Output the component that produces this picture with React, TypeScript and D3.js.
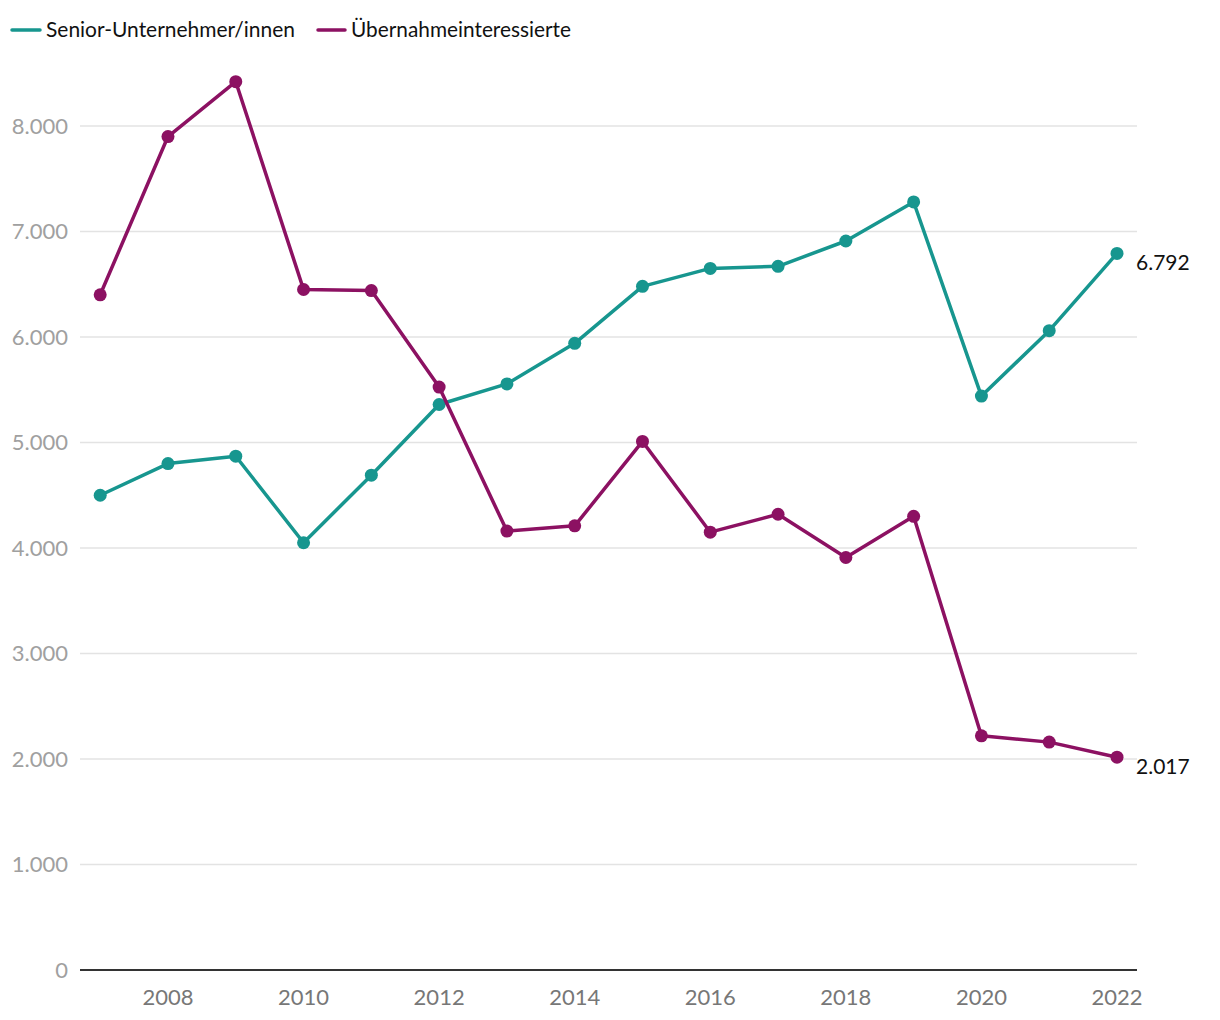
import React from "react";
import * as d3 from "d3";

const years = [2007, 2008, 2009, 2010, 2011, 2012, 2013, 2014, 2015, 2016, 2017, 2018, 2019, 2020, 2021, 2022];
const seniorValues = [4500, 4800, 4870, 4050, 4690, 5360, 5555, 5940, 6480, 6650, 6670, 6910, 7280, 5440, 6060, 6792];
const interestValues = [6400, 7900, 8420, 6450, 6440, 5525, 4160, 4210, 5010, 4150, 4320, 3910, 4300, 2220, 2160, 2017];
const yTicks = [0, 1000, 2000, 3000, 4000, 5000, 6000, 7000, 8000];
const xTicks = [2008, 2010, 2012, 2014, 2016, 2018, 2020, 2022];
const seriesNames = ["Senior-Unternehmer/innen", "Übernahmeinteressierte"];
const colors = ["#17968f", "#8c1162"];

const W = 1220, H = 1020;
const FONT = "Lato, 'Open Sans', sans-serif";

export default function App() {
  const x = d3.scaleLinear().domain([2007, 2022]).range([100.2, 1117]);
  const y = d3.scaleLinear().domain([0, 8000]).range([970, 126]);
  const fmt = (v: number) => (v === 0 ? "0" : d3.format(",")(v).replace(/,/g, "."));
  const line = d3.line<number>().x((_, i) => x(years[i])).y((d) => y(d));
  const series = [seniorValues, interestValues];

  return (
    <svg width={W} height={H} style={{ position: "absolute", left: 0, top: 0, background: "#fff" }} fontFamily={FONT}>
      {/* legend */}
      <g>
        <line x1={12} x2={40} y1={30} y2={30} stroke={colors[0]} strokeWidth={3.5} strokeLinecap="round" />
        <text x={46} y={37} fontSize={21} fill="#111" textLength={249} lengthAdjust="spacingAndGlyphs">{seriesNames[0]}</text>
        <line x1={318} x2={345} y1={30} y2={30} stroke={colors[1]} strokeWidth={3.5} strokeLinecap="round" />
        <text x={351} y={37} fontSize={21} fill="#111" textLength={220} lengthAdjust="spacingAndGlyphs">{seriesNames[1]}</text>
      </g>
      {/* grid */}
      {yTicks.filter((t) => t > 0).map((t) => (
        <line key={t} x1={80} x2={1137} y1={y(t)} y2={y(t)} stroke="#e3e3e3" strokeWidth={1.5} />
      ))}
      {yTicks.map((t) => (
        <text key={"l" + t} x={68} y={y(t) + 7.5} textAnchor="end" fontSize={22} fill="#a0a0a0">{fmt(t)}</text>
      ))}
      <line x1={80} x2={1137} y1={y(0)} y2={y(0)} stroke="#333" strokeWidth={2} />
      {xTicks.map((t) => (
        <text key={"x" + t} x={x(t)} y={1005} textAnchor="middle" fontSize={22} fill="#777">{t}</text>
      ))}
      {series.map((s, si) => (
        <g key={si}>
          <path d={line(s) || ""} fill="none" stroke={colors[si]} strokeWidth={3.5} strokeLinejoin="round" />
          {s.map((v, i) => (
            <circle key={i} cx={x(years[i])} cy={y(v)} r={6.5} fill={colors[si]} />
          ))}
        </g>
      ))}
      <text x={1136} y={y(seniorValues[15]) + 17} fontSize={21} fill="#111">{fmt(seniorValues[15])}</text>
      <text x={1136} y={y(interestValues[15]) + 17} fontSize={21} fill="#111">{fmt(interestValues[15])}</text>
    </svg>
  );
}
